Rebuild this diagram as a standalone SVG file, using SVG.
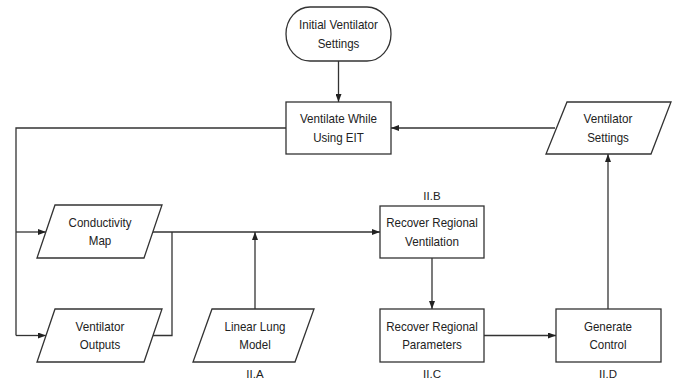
<svg xmlns="http://www.w3.org/2000/svg" width="677" height="382" viewBox="0 0 677 382">
<style>
.s{fill:#fff;stroke:#333;stroke-width:1.3}
.t{font-family:"Liberation Sans",Arial,sans-serif;font-size:13.5px;fill:#222;text-anchor:middle}
.l{font-family:"Liberation Sans",Arial,sans-serif;font-size:11.5px;fill:#222;text-anchor:middle}
.c{fill:none;stroke:#333;stroke-width:1.3}
</style>
<defs>
<marker id="a" viewBox="0 0 8 6" refX="8" refY="3" markerWidth="8" markerHeight="6" markerUnits="userSpaceOnUse" orient="auto">
<path d="M0,0 L8,3 L0,6 Z" fill="#222"/>
</marker>
</defs>
<rect width="677" height="382" fill="#fff"/>
<g id="connectors">
<path class="c" d="M338.5,61 V102" marker-end="url(#a)"/>
<path class="c" d="M555,128 H391" marker-end="url(#a)"/>
<path class="c" d="M286,128 H16 V335.5"/>
<path class="c" d="M16,232 H46" marker-end="url(#a)"/>
<path class="c" d="M16,335.5 H46" marker-end="url(#a)"/>
<path class="c" d="M153,232 H380" marker-end="url(#a)"/>
<path class="c" d="M153,335.5 H172 V232"/>
<path class="c" d="M255,309 V232" marker-end="url(#a)"/>
<path class="c" d="M432,258 V309" marker-end="url(#a)"/>
<path class="c" d="M484,335.5 H556" marker-end="url(#a)"/>
<path class="c" d="M608,309 V154" marker-end="url(#a)"/>
</g>
<g id="initial">
<rect class="s" x="286" y="7" width="105" height="54" rx="24" ry="27"/>
<text class="t" x="338.5" y="29" textLength="78.9" lengthAdjust="spacingAndGlyphs">Initial Ventilator</text>
<text class="t" x="338.5" y="47.5" textLength="41.7" lengthAdjust="spacingAndGlyphs">Settings</text>
</g>
<g id="ventilate">
<rect class="s" x="286" y="102" width="105" height="52"/>
<text class="t" x="338.5" y="123" textLength="77" lengthAdjust="spacingAndGlyphs">Ventilate While</text>
<text class="t" x="338.5" y="141.5" textLength="50.7" lengthAdjust="spacingAndGlyphs">Using EIT</text>
</g>
<g id="vsettings">
<polygon class="s" points="567,102 671,102 651,154 546,154"/>
<text class="t" x="608" y="123" textLength="48.8" lengthAdjust="spacingAndGlyphs">Ventilator</text>
<text class="t" x="608" y="141.5" textLength="41.7" lengthAdjust="spacingAndGlyphs">Settings</text>
</g>
<g id="condmap">
<polygon class="s" points="55,205 162,205 144,258 37,258"/>
<text class="t" x="100" y="226.5" textLength="62.9" lengthAdjust="spacingAndGlyphs">Conductivity</text>
<text class="t" x="100" y="245" textLength="22.5" lengthAdjust="spacingAndGlyphs">Map</text>
</g>
<g id="voutputs">
<polygon class="s" points="55,309 162,309 144,362 37,362"/>
<text class="t" x="100" y="330.5" textLength="48.8" lengthAdjust="spacingAndGlyphs">Ventilator</text>
<text class="t" x="100" y="349" textLength="40.4" lengthAdjust="spacingAndGlyphs">Outputs</text>
</g>
<g id="lung">
<polygon class="s" points="212,309 314,309 295,362 193,362"/>
<text class="t" x="255" y="330.5" textLength="61" lengthAdjust="spacingAndGlyphs">Linear Lung</text>
<text class="t" x="255" y="349" textLength="31.4" lengthAdjust="spacingAndGlyphs">Model</text>
<text class="l" x="255" y="377.5">II.A</text>
</g>
<g id="rrv">
<rect class="s" x="380" y="206" width="104" height="52"/>
<text class="t" x="432" y="227" textLength="91.7" lengthAdjust="spacingAndGlyphs">Recover Regional</text>
<text class="t" x="432" y="245.5" textLength="53.9" lengthAdjust="spacingAndGlyphs">Ventilation</text>
<text class="l" x="432" y="199.5">II.B</text>
</g>
<g id="rrp">
<rect class="s" x="380" y="309" width="104" height="53"/>
<text class="t" x="432" y="330.5" textLength="91.7" lengthAdjust="spacingAndGlyphs">Recover Regional</text>
<text class="t" x="432" y="349" textLength="59.7" lengthAdjust="spacingAndGlyphs">Parameters</text>
<text class="l" x="432" y="377.5">II.C</text>
</g>
<g id="gc">
<rect class="s" x="556" y="309" width="105" height="53"/>
<text class="t" x="608" y="330.5" textLength="48.1" lengthAdjust="spacingAndGlyphs">Generate</text>
<text class="t" x="608" y="349" textLength="37.2" lengthAdjust="spacingAndGlyphs">Control</text>
<text class="l" x="608" y="377.5">II.D</text>
</g>
</svg>
